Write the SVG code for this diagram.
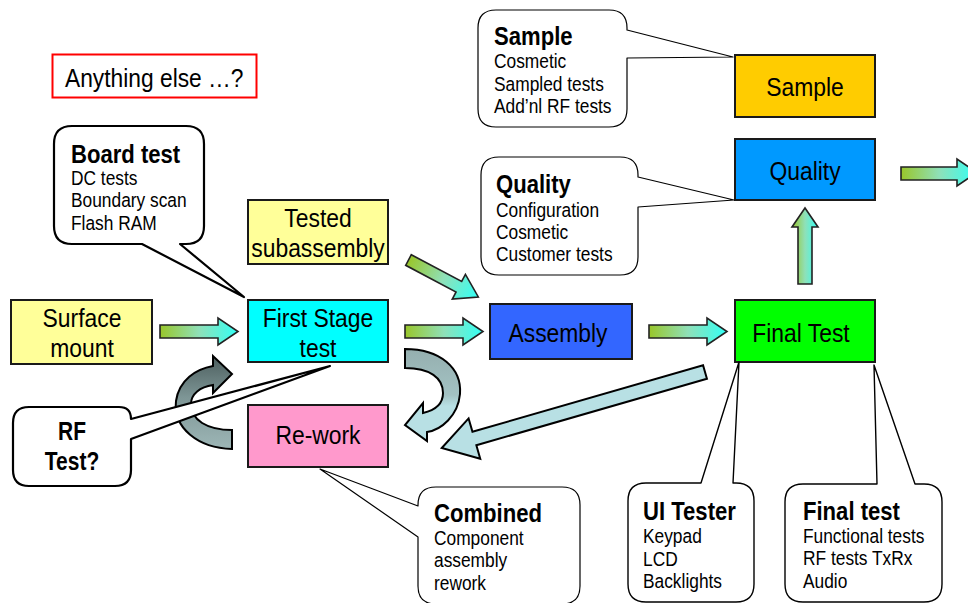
<svg xmlns="http://www.w3.org/2000/svg" width="968" height="603" viewBox="0 0 968 603">
  <style>
    text { font-family: "Liberation Sans", Arial, sans-serif; fill: #000; }
    .box { stroke: #1a1a1a; stroke-width: 2; }
    .lbl { font-size: 26px; text-anchor: middle; }
    .ttl { font-size: 26px; font-weight: bold; }
    .itm { font-size: 19.5px; }
    .call { fill: #fff; stroke: #000; stroke-linejoin: round; }
    .flow { fill: url(#flowGrad); stroke: #222; stroke-width: 1.6; stroke-linejoin: miter; }
  </style>
  <defs>
    <linearGradient id="flowGrad" x1="0" y1="0" x2="1" y2="0">
      <stop offset="0" stop-color="#99C62A"/>
      <stop offset="0.5" stop-color="#8FE0B8"/>
      <stop offset="1" stop-color="#33FFF5"/>
    </linearGradient>
    <linearGradient id="loopDark" x1="0" y1="0" x2="0" y2="1">
      <stop offset="0" stop-color="#4C5E5E"/>
      <stop offset="0.45" stop-color="#7E9696"/>
      <stop offset="1" stop-color="#9DB6B6"/>
    </linearGradient>
    <linearGradient id="loopLight" x1="0" y1="0" x2="0" y2="1">
      <stop offset="0" stop-color="#95AFAF"/>
      <stop offset="0.5" stop-color="#A3C2C3"/>
      <stop offset="0.62" stop-color="#B8E0E4"/>
      <stop offset="1" stop-color="#B8E0E4"/>
    </linearGradient>
  </defs>

  <!-- connectors -->
  <g id="connectors">
    <path class="flow" d="M160,325 H218 V318 L238,331.5 L218,345 V338 H160 Z"/>
    <path class="flow" d="M405,325 H463 V318 L483,331.5 L463,345 V338 H405 Z"/>
    <path class="flow" d="M649,325 H707 V318 L727,331.5 L707,345 V338 H649 Z"/>
    <path class="flow" d="M798,284 V227 H792 L805,208 L818,227 H812 V284 Z"/>
    <path class="flow" d="M901,167 H957 V159 L977,172.5 L957,186 V180 H901 Z"/>
    <path class="flow" transform="translate(408.5,260) rotate(27.9)" d="M0,-6 H57 V-14 L79,0 L57,14 V6 H0 Z"/>
    <!-- loop back from re-work into first stage test -->
    <path fill="url(#loopDark)" stroke="#000" stroke-width="2" d="M232,449 C198,448 173,428 176,401 C179,380 196,369 213,366 L213,356 L232,374 L213,393 L213,385 C200,387 191,394 191,404 C191,420 207,430 232,430 Z"/>
    <!-- first stage test failures to re-work -->
    <path fill="url(#loopLight)" stroke="#000" stroke-width="2" d="M405,349 C440,349 462,368 460,394 C458,416 441,430 427,432 L427,441 L405,425 L423,403 L423,413 C436,410 443,403 443,393 C443,378 430,368 405,368 Z"/>
    <!-- final test failures to re-work -->
    <path fill="#B8E0E4" stroke="#000" stroke-width="2" transform="translate(705,372) rotate(163.9)" d="M0,-7 H240 V-21 L274,0 L240,21 V7 H0 Z"/>
  </g>

  <g id="anything-else">
    <rect x="52.5" y="54.5" width="204" height="43" fill="#fff" stroke="#FF0000" stroke-width="2"/>
    <text transform="matrix(0.86,0,0,1,65,87)" style="font-size:26.5px">Anything else …?</text>
  </g>

  <g id="surface-mount">
    <rect class="box" x="11" y="300" width="141" height="64" fill="#FFFF99"/>
    <text class="lbl" transform="matrix(0.88,0,0,1,82,327)">Surface</text>
    <text class="lbl" transform="matrix(0.88,0,0,1,82,357)">mount</text>
  </g>

  <g id="tested-subassembly">
    <rect class="box" x="248" y="200" width="140" height="64" fill="#FFFF99"/>
    <text class="lbl" transform="matrix(0.88,0,0,1,318,227)">Tested</text>
    <text class="lbl" transform="matrix(0.88,0,0,1,318,257)">subassembly</text>
  </g>

  <g id="first-stage-test">
    <rect class="box" x="248" y="300" width="140" height="62" fill="#00FFFF"/>
    <text class="lbl" transform="matrix(0.88,0,0,1,318,327)">First Stage</text>
    <text class="lbl" transform="matrix(0.88,0,0,1,318,357)">test</text>
  </g>

  <g id="re-work">
    <rect class="box" x="248" y="405" width="140" height="62" fill="#FF99CC"/>
    <text class="lbl" transform="matrix(0.88,0,0,1,318,444)">Re-work</text>
  </g>

  <g id="assembly">
    <rect class="box" x="490" y="304" width="142" height="55" fill="#3366FF"/>
    <text class="lbl" transform="matrix(0.88,0,0,1,558,342)">Assembly</text>
  </g>

  <g id="final-test">
    <rect class="box" x="735" y="300" width="140" height="62" fill="#00FF00"/>
    <text class="lbl" transform="matrix(0.88,0,0,1,801,342)">Final Test</text>
  </g>

  <g id="sample">
    <rect class="box" x="735" y="55" width="140" height="62" fill="#FFCC00"/>
    <text class="lbl" transform="matrix(0.88,0,0,1,805,96)">Sample</text>
  </g>

  <g id="quality">
    <rect class="box" x="735" y="139" width="140" height="61" fill="#0099FF"/>
    <text class="lbl" transform="matrix(0.88,0,0,1,805,180)">Quality</text>
  </g>

  <!-- callouts -->
  <g id="board-test-note">
    <path class="call" stroke-width="2.2" d="M72,126 H186 Q204,126 204,144 V226 Q204,244 186,244 H180 L244,297 L142,244 H72 Q54,244 54,226 V144 Q54,126 72,126 Z"/>
    <text class="ttl" transform="matrix(0.85,0,0,1,71,163)">Board test</text>
    <text class="itm" transform="matrix(0.89,0,0,1,71,185)">DC tests</text>
    <text class="itm" transform="matrix(0.89,0,0,1,71,207)">Boundary scan</text>
    <text class="itm" transform="matrix(0.89,0,0,1,71,230)">Flash RAM</text>
  </g>

  <g id="sample-note">
    <path class="call" stroke-width="1.2" d="M496,10 H609 Q627,10 627,28 V30 L733,57 L627,58 V109 Q627,127 609,127 H496 Q478,127 478,109 V28 Q478,10 496,10 Z"/>
    <text class="ttl" transform="matrix(0.85,0,0,1,494,45)">Sample</text>
    <text class="itm" transform="matrix(0.89,0,0,1,494,68)">Cosmetic</text>
    <text class="itm" transform="matrix(0.89,0,0,1,494,91)">Sampled tests</text>
    <text class="itm" transform="matrix(0.89,0,0,1,494,113)">Add’nl RF tests</text>
  </g>

  <g id="quality-note">
    <path class="call" stroke-width="1.2" d="M499,157 H620 Q638,157 638,175 V177 L734,200 L638,207 V257 Q638,275 620,275 H499 Q481,275 481,257 V175 Q481,157 499,157 Z"/>
    <text class="ttl" transform="matrix(0.85,0,0,1,496,193)">Quality</text>
    <text class="itm" transform="matrix(0.89,0,0,1,496,217)">Configuration</text>
    <text class="itm" transform="matrix(0.89,0,0,1,496,239)">Cosmetic</text>
    <text class="itm" transform="matrix(0.89,0,0,1,496,261)">Customer tests</text>
  </g>

  <g id="rf-test-note">
    <path class="call" stroke-width="2.2" d="M29,407 H119 Q131,407 131,419 L330,366 L131,439 V470 Q131,486 115,486 H29 Q13,486 13,470 V423 Q13,407 29,407 Z"/>
    <text class="ttl" transform="matrix(0.84,0,0,1,72,440)" text-anchor="middle" style="font-size:25px">RF</text>
    <text class="ttl" transform="matrix(0.84,0,0,1,72,470)" text-anchor="middle" style="font-size:25px">Test?</text>
  </g>

  <g id="combined-note">
    <path class="call" stroke-width="1.2" d="M436,487 H562 Q580,487 580,505 V586 Q580,604 562,604 H436 Q418,604 418,586 V537 L320,469 L418,506 V505 Q418,487 436,487 Z"/>
    <text class="ttl" transform="matrix(0.85,0,0,1,434,522)">Combined</text>
    <text class="itm" transform="matrix(0.89,0,0,1,434,545)">Component</text>
    <text class="itm" transform="matrix(0.89,0,0,1,434,567)">assembly</text>
    <text class="itm" transform="matrix(0.89,0,0,1,434,590)">rework</text>
  </g>

  <g id="ui-tester-note">
    <path class="call" stroke-width="1.4" d="M646,483 H701 L739,362 L733,483 H736 Q754,483 754,501 V584 Q754,602 736,602 H646 Q628,602 628,584 V501 Q628,483 646,483 Z"/>
    <text class="ttl" transform="matrix(0.85,0,0,1,643,520)">UI Tester</text>
    <text class="itm" transform="matrix(0.89,0,0,1,643,543)">Keypad</text>
    <text class="itm" transform="matrix(0.89,0,0,1,643,566)">LCD</text>
    <text class="itm" transform="matrix(0.89,0,0,1,643,588)">Backlights</text>
  </g>

  <g id="final-test-note">
    <path class="call" stroke-width="1.4" d="M803,484 H877 L874,365 L915,484 H924 Q942,484 942,502 V584 Q942,602 924,602 H803 Q785,602 785,584 V502 Q785,484 803,484 Z"/>
    <text class="ttl" transform="matrix(0.85,0,0,1,803,520)">Final test</text>
    <text class="itm" transform="matrix(0.89,0,0,1,803,543)">Functional tests</text>
    <text class="itm" transform="matrix(0.89,0,0,1,803,565)">RF tests TxRx</text>
    <text class="itm" transform="matrix(0.89,0,0,1,803,588)">Audio</text>
  </g>
</svg>
